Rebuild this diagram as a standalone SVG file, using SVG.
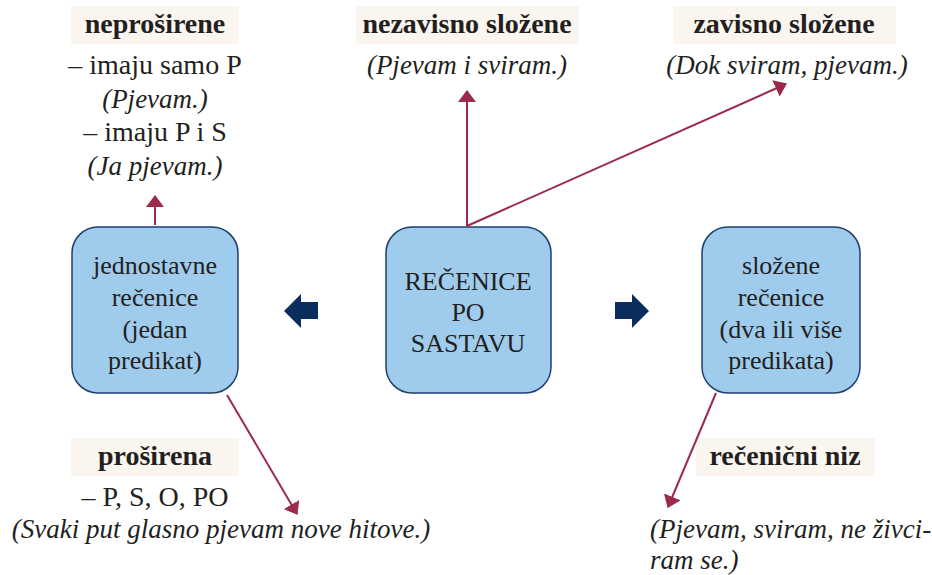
<svg xmlns="http://www.w3.org/2000/svg" width="932" height="575" viewBox="0 0 932 575">
<style>
.lbl{fill:#FAF6EF}
text{font-family:"Liberation Serif","Times New Roman",serif;fill:#231F20;text-anchor:middle}
.h{font-weight:bold;font-size:28px}
.t{font-size:28px}
.i{font-style:italic;font-size:27px}
.s{text-anchor:start}
.box{fill:#9FCBEC;stroke:#1F3F6E;stroke-width:1.5}
.bt{font-size:26px}
.con{stroke:#9B2A4B;stroke-width:2;fill:none;marker-end:url(#ah)}
.blk{fill:#0B2D5E}
</style>
<defs>
<marker id="ah" viewBox="0 0 12 18" refX="11" refY="9" markerWidth="12" markerHeight="18" markerUnits="userSpaceOnUse" orient="auto">
<path d="M0,0 L12,9 L0,18 Z" fill="#9B2A4B"/>
</marker>
</defs>
<g id="neprosirene">
<rect class="lbl" x="71" y="6" width="168" height="38"/>
<text class="h" x="155" y="33">neproširene</text>
<text class="t" x="155" y="74">– imaju samo P</text>
<text class="i" x="155" y="108">(Pjevam.)</text>
<text class="t" x="155" y="141">– imaju P i S</text>
<text class="i" x="155" y="175">(Ja pjevam.)</text>
</g>
<g id="nezavisno">
<rect class="lbl" x="356" y="6" width="223" height="38"/>
<text class="h" x="467" y="33">nezavisno složene</text>
<text class="i" x="467" y="74">(Pjevam i sviram.)</text>
</g>
<g id="zavisno">
<rect class="lbl" x="673" y="6" width="223" height="38"/>
<text class="h" x="784" y="33">zavisno složene</text>
<text class="i" x="787" y="74">(Dok sviram, pjevam.)</text>
</g>
<g id="prosirena">
<rect class="lbl" x="71" y="438" width="168" height="38"/>
<text class="h" x="155" y="465">proširena</text>
<text class="t" x="155" y="506">– P, S, O, PO</text>
<text class="i" x="221" y="538">(Svaki put glasno pjevam nove hitove.)</text>
</g>
<g id="recenicni-niz">
<rect class="lbl" x="696" y="438" width="179" height="38"/>
<text class="h" x="785" y="465">rečenični niz</text>
<text class="i s" x="650" y="538">(Pjevam, sviram, ne živci-</text>
<text class="i s" x="650" y="569">ram se.)</text>
</g>
<g id="jednostavne">
<rect class="box" x="72" y="227" width="166" height="166" rx="26"/>
<text class="bt" x="155" y="274">jednostavne</text>
<text class="bt" x="155" y="306">rečenice</text>
<text class="bt" x="155" y="338">(jedan</text>
<text class="bt" x="155" y="369">predikat)</text>
</g>
<g id="sastav">
<rect class="box" x="386" y="227" width="165" height="166" rx="26"/>
<text class="bt" x="468" y="290">REČENICE</text>
<text class="bt" x="468" y="321">PO</text>
<text class="bt" x="468" y="352">SASTAVU</text>
</g>
<g id="slozene">
<rect class="box" x="702" y="227" width="158" height="166" rx="26"/>
<text class="bt" x="781" y="274">složene</text>
<text class="bt" x="781" y="306">rečenice</text>
<text class="bt" x="781" y="338">(dva ili više</text>
<text class="bt" x="781" y="369">predikata)</text>
</g>
<g id="connectors">
<path class="blk" d="M284,311 L301,294 L301,302 L318,302 L318,319 L301,319 L301,328 Z"/>
<path class="blk" d="M649,311 L632,294 L632,302 L615,302 L615,319 L632,319 L632,328 Z"/>
<line class="con" x1="155" y1="225" x2="155" y2="196"/>
<line class="con" x1="467" y1="226" x2="467" y2="91"/>
<line class="con" x1="467" y1="226" x2="786" y2="84"/>
<line class="con" x1="227" y1="395" x2="297" y2="514"/>
<line class="con" x1="716" y1="393" x2="668" y2="507"/>
</g>
</svg>
